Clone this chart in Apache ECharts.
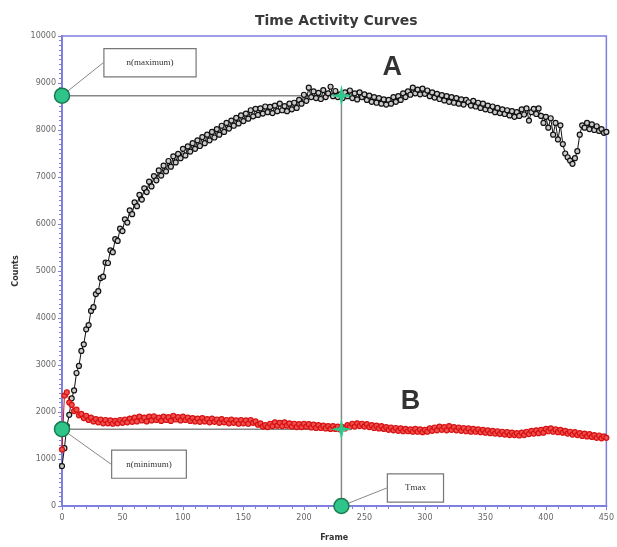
<!DOCTYPE html>
<html>
<head>
<meta charset="utf-8">
<script src="https://cdn.jsdelivr.net/npm/echarts@6/dist/echarts.min.js"></script>
<style>
  html, body { margin: 0; padding: 0; background: #fff; }
  #chart { width: 617px; height: 547px; }
</style>
</head>
<body>
<div id="chart"></div>
<script>
// frames 0..450, every 2nd frame
var frameStep = 2;
var curveA = [
  850, 1230, 1700, 1940, 2290, 2460, 2830, 2980, 3300, 3440,
  3760, 3850, 4150, 4230, 4510, 4570, 4850, 4880, 5180, 5170,
  5440, 5400, 5680, 5640, 5900, 5850, 6100, 6030, 6290, 6210,
  6460, 6380, 6620, 6520, 6760, 6680, 6900, 6800, 7020, 6930,
  7140, 7030, 7240, 7120, 7340, 7220, 7440, 7310, 7490, 7400,
  7600, 7460, 7650, 7540, 7720, 7600, 7780, 7660, 7850, 7720,
  7900, 7780, 7960, 7840, 8020, 7900, 8090, 7960, 8150, 8030,
  8200, 8090, 8260, 8140, 8310, 8190, 8350, 8240, 8420, 8290,
  8450, 8320, 8460, 8350, 8500, 8380, 8490, 8360, 8520, 8400,
  8560, 8420, 8510, 8400, 8560, 8440, 8580, 8470, 8640, 8560,
  8750, 8620, 8900, 8700, 8820, 8680, 8790, 8660, 8850, 8700,
  8780, 8920, 8720, 8830, 8700, 8760, 8680, 8800, 8720, 8840,
  8680, 8780, 8650, 8800, 8700, 8760, 8640, 8730, 8600, 8700,
  8580, 8680, 8560, 8650, 8540, 8640, 8560, 8700, 8600, 8720,
  8640, 8780, 8700, 8820, 8750, 8900, 8780, 8860, 8760, 8880,
  8770, 8840, 8720, 8800, 8690, 8770, 8660, 8740, 8630, 8720,
  8600, 8700, 8580, 8680, 8560, 8650, 8540, 8640, 8590, 8520,
  8620, 8500, 8580, 8470, 8560, 8440, 8520, 8420, 8500, 8380,
  8470, 8360, 8440, 8340, 8420, 8310, 8400, 8280, 8380, 8300,
  8440, 8330, 8460, 8200, 8380, 8450, 8340, 8460, 8300, 8150,
  8280, 8050, 8250, 7900, 8150, 7800, 8100, 7700, 7500, 7420,
  7350, 7280, 7400, 7550, 7900, 8100, 8050, 8150, 8020, 8120,
  8000, 8080, 7980, 8020, 7940, 7960
];
var curveB = [
  1200, 2350, 2420, 2200, 2150, 2020, 2050, 1930, 1960, 1870,
  1920, 1830, 1880, 1800, 1850, 1780, 1840, 1760, 1830, 1760,
  1820, 1750, 1810, 1760, 1830, 1770, 1840, 1780, 1860, 1790,
  1880, 1800, 1900, 1820, 1880, 1800, 1900, 1820, 1910, 1830,
  1880, 1810, 1900, 1830, 1890, 1810, 1920, 1840, 1890, 1820,
  1900, 1830, 1880, 1810, 1870, 1800, 1860, 1790, 1870, 1800,
  1850, 1780, 1860, 1790, 1840, 1770, 1850, 1780, 1830, 1760,
  1840, 1770, 1820, 1750, 1830, 1760, 1820, 1750, 1830, 1770,
  1800, 1730, 1760, 1690, 1720, 1680, 1750, 1700, 1780, 1710,
  1770, 1700, 1780, 1710, 1760, 1690, 1750, 1680, 1740, 1680,
  1750, 1690, 1740, 1670, 1730, 1660, 1720, 1660, 1710, 1650,
  1700, 1640, 1700, 1640, 1690, 1630, 1680, 1650, 1720, 1680,
  1750, 1690, 1760, 1700, 1750, 1690, 1740, 1680, 1720, 1660,
  1710, 1650, 1700, 1640, 1680, 1620, 1670, 1610, 1660, 1600,
  1650, 1590, 1640, 1590, 1630, 1580, 1640, 1580, 1630, 1570,
  1620, 1580, 1650, 1600, 1670, 1610, 1690, 1620, 1680, 1610,
  1700, 1620, 1680, 1610, 1670, 1600, 1660, 1590, 1650, 1580,
  1640, 1580, 1630, 1570, 1620, 1560, 1610, 1550, 1600, 1540,
  1590, 1530, 1580, 1520, 1570, 1510, 1560, 1510, 1550, 1500,
  1560, 1510, 1580, 1530, 1600, 1540, 1610, 1550, 1620, 1560,
  1640, 1590, 1650, 1580, 1630, 1570, 1620, 1560, 1600, 1540,
  1580, 1520, 1570, 1510, 1550, 1490, 1540, 1480, 1530, 1470,
  1510, 1450, 1500, 1440, 1480, 1450
];
var tmax = 231;
var nMax = 8730;
var nMin = 1635;
var calloutText = ['n(maximum)', 'n(minimum)', 'Tmax'];

var chart = echarts.init(document.getElementById('chart'));

function pairs(vals) {
  return vals.map(function (v, i) { return [i * frameStep, v]; });
}

var axisBlue = '#7f7fe0';
// where each callout box sits relative to its point (pixels) and its padding
var calloutShift = [[88, -33], [87, 35], [74, -18]];
var calloutPad = [[9, 22], [9, 14], [9, 17]];

var option = {
  backgroundColor: '#fff',
  animation: false,
  title: {
    text: 'Time Activity Curves',
    left: 250,
    top: 9,
    textStyle: { fontFamily: 'DejaVu Sans', fontSize: 14, fontWeight: 'bold', color: '#3a3a3a' }
  },
  grid: {
    left: 62, right: 9, top: 36, bottom: 34,
    show: true, borderColor: axisBlue, borderWidth: 1.5
  },
  xAxis: {
    type: 'value', min: 0, max: 450, interval: 50,
    name: 'Frame', nameLocation: 'middle', nameGap: 28,
    nameTextStyle: { fontFamily: 'DejaVu Sans', fontSize: 8, fontWeight: 'bold', color: '#333' },
    axisLine: { lineStyle: { color: axisBlue, width: 2 } },
    axisTick: { inside: false, length: 4, lineStyle: { color: axisBlue } },
    minorTick: { show: true, splitNumber: 5, length: 3, lineStyle: { color: axisBlue } },
    axisLabel: { fontFamily: 'DejaVu Sans', fontSize: 8, color: '#666', margin: 8 },
    splitLine: { show: false }
  },
  yAxis: {
    type: 'value', min: 0, max: 10000, interval: 1000,
    name: 'Counts', nameLocation: 'middle', nameGap: 40,
    nameTextStyle: { fontFamily: 'DejaVu Sans', fontSize: 8, fontWeight: 'bold', color: '#333' },
    axisLine: { lineStyle: { color: axisBlue, width: 2 } },
    axisTick: { inside: false, length: 4, lineStyle: { color: axisBlue } },
    minorTick: { show: true, splitNumber: 10, length: 3, lineStyle: { color: axisBlue } },
    axisLabel: {
      fontFamily: 'DejaVu Sans', fontSize: 8, color: '#666', margin: 6,
      formatter: function (v) { return String(v); }
    },
    splitLine: { show: false }
  },
  series: [
    {
      name: 'guides', type: 'line', symbol: 'none', silent: true,
      lineStyle: { color: '#888', width: 1.5 },
      data: [[0, nMax], [tmax, nMax], null, [0, nMin], [tmax, nMin], null, [tmax, 0], [tmax, nMax]],
      connectNulls: false, z: 1
    },
    {
      name: 'A', type: 'line', data: pairs(curveA),
      symbol: 'circle', symbolSize: 5, showAllSymbol: true,
      lineStyle: { color: '#111', width: 1 },
      itemStyle: { color: '#ccc', borderColor: '#111', borderWidth: 1.2 },
      z: 3
    },
    {
      name: 'B', type: 'line', data: pairs(curveB),
      symbol: 'circle', symbolSize: 5, showAllSymbol: true,
      lineStyle: { color: '#d81010', width: 1 },
      itemStyle: { color: '#ee5050', borderColor: '#d81010', borderWidth: 1.2 },
      z: 4
    },
    {
      name: 'stars', type: 'scatter',
      symbol: 'path://M0,-10 L1.8,-1.8 L10,0 L1.8,1.8 L0,10 L-1.8,1.8 L-10,0 L-1.8,-1.8 Z',
      symbolSize: 22,
      itemStyle: { color: '#2ec98c', opacity: 1 },
      data: [[tmax, nMax], [tmax, nMin]],
      z: 6
    },
    {
      name: 'points', type: 'scatter', symbol: 'circle', symbolSize: 15,
      itemStyle: { color: '#2ec48a', borderColor: '#187a50', borderWidth: 1.5, opacity: 1 },
      label: {
        show: true,
        position: 'inside',
        formatter: function (p) { return calloutText[p.dataIndex]; },
        fontFamily: 'Liberation Serif',
        fontSize: 9,
        color: '#333',
        backgroundColor: '#fff',
        borderColor: '#777',
        borderWidth: 1.2
      },
      labelLine: { show: true, lineStyle: { color: '#888', width: 1 } },
      labelLayout: function (p) {
        return { dx: calloutShift[p.dataIndex][0], dy: calloutShift[p.dataIndex][1] };
      },
      data: [[0, nMax], [0, nMin], [tmax, 0]].map(function (v, i) {
        return { value: v, label: { padding: calloutPad[i] } };
      }),
      clip: false,
      z: 7
    },
    {
      name: 'letters', type: 'scatter', symbolSize: 0, silent: true,
      label: {
        show: true, position: 'inside', formatter: '{b}',
        fontFamily: 'Liberation Sans', fontSize: 27, fontWeight: 'bold', color: '#000'
      },
      data: [
        { name: 'A', value: [273, 9330] },
        { name: 'B', value: [288, 2220] }
      ],
      z: 8
    }
  ]
};

chart.setOption(option);
</script>
</body>
</html>
